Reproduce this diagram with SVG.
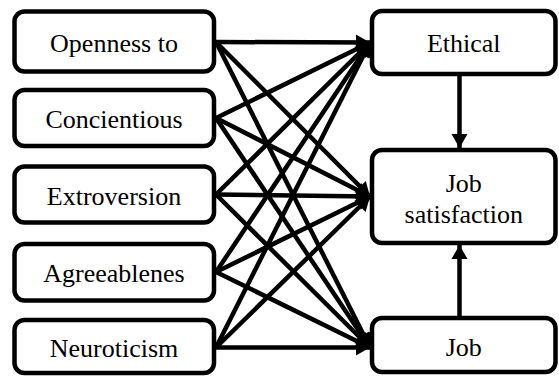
<svg xmlns="http://www.w3.org/2000/svg" width="559" height="377" viewBox="0 0 559 377">
<style>
.box{fill:#fff;stroke:#000;stroke-width:4.5}
.t{font-size:26px;fill:#000;text-anchor:middle}
.c{stroke:#000;stroke-width:4.5;fill:none;marker-end:url(#ah)}
</style>
<defs>
<marker id="ah" markerUnits="userSpaceOnUse" markerWidth="16" markerHeight="16" refX="14" refY="8" orient="auto" overflow="visible">
<path d="M0,0 L14,8 L0,16 z" fill="#000"/>
</marker>
</defs>
<rect width="559" height="377" fill="#fff"/>
<g id="connectors">
<line class="c" x1="216" y1="42" x2="370" y2="42.5"/>
<line class="c" x1="216" y1="42" x2="370" y2="196.5"/>
<line class="c" x1="216" y1="42" x2="370" y2="347.5"/>
<line class="c" x1="216" y1="118" x2="370" y2="42.5"/>
<line class="c" x1="216" y1="118" x2="370" y2="196.5"/>
<line class="c" x1="216" y1="118" x2="370" y2="347.5"/>
<line class="c" x1="216" y1="194.5" x2="370" y2="42.5"/>
<line class="c" x1="216" y1="194.5" x2="370" y2="196.5"/>
<line class="c" x1="216" y1="194.5" x2="370" y2="347.5"/>
<line class="c" x1="216" y1="272" x2="370" y2="42.5"/>
<line class="c" x1="216" y1="272" x2="370" y2="196.5"/>
<line class="c" x1="216" y1="272" x2="370" y2="347.5"/>
<line class="c" x1="216" y1="347.5" x2="370" y2="42.5"/>
<line class="c" x1="216" y1="347.5" x2="370" y2="196.5"/>
<line class="c" x1="216" y1="347.5" x2="370" y2="347.5"/>
<line class="c" x1="459.5" y1="76" x2="459.5" y2="148"/>
<line class="c" x1="459.5" y1="316" x2="459.5" y2="245"/>
</g>
<g id="openness">
<rect class="box" x="14.5" y="11.5" width="199.5" height="60" rx="10"/>
<text class="t" x="114" y="52" font-family="Liberation Serif">Openness to</text>
</g>
<g id="concientious">
<rect class="box" x="14.5" y="90" width="199.5" height="56" rx="10"/>
<text class="t" x="114" y="128" font-family="Liberation Serif">Concientious</text>
</g>
<g id="extroversion">
<rect class="box" x="14.5" y="166.5" width="199.5" height="56" rx="10"/>
<text class="t" x="114" y="205" font-family="Liberation Serif">Extroversion</text>
</g>
<g id="agreeablenes">
<rect class="box" x="14.5" y="244" width="199.5" height="56.5" rx="10"/>
<text class="t" x="114" y="282" font-family="Liberation Serif">Agreeablenes</text>
</g>
<g id="neuroticism">
<rect class="box" x="14.5" y="320" width="199.5" height="53" rx="10"/>
<text class="t" x="114" y="357" font-family="Liberation Serif">Neuroticism</text>
</g>
<g id="ethical">
<rect class="box" x="372" y="11" width="183.5" height="63" rx="10"/>
<text class="t" x="463.75" y="52" font-family="Liberation Serif">Ethical</text>
</g>
<g id="job-satisfaction">
<rect class="box" x="372" y="150" width="183.5" height="93" rx="10"/>
<text class="t" x="463.75" y="192" font-family="Liberation Serif">Job</text>
<text class="t" x="463.75" y="223" font-family="Liberation Serif">satisfaction</text>
</g>
<g id="job">
<rect class="box" x="372" y="318" width="183.5" height="54" rx="10"/>
<text class="t" x="463.75" y="356" font-family="Liberation Serif">Job</text>
</g>
</svg>
